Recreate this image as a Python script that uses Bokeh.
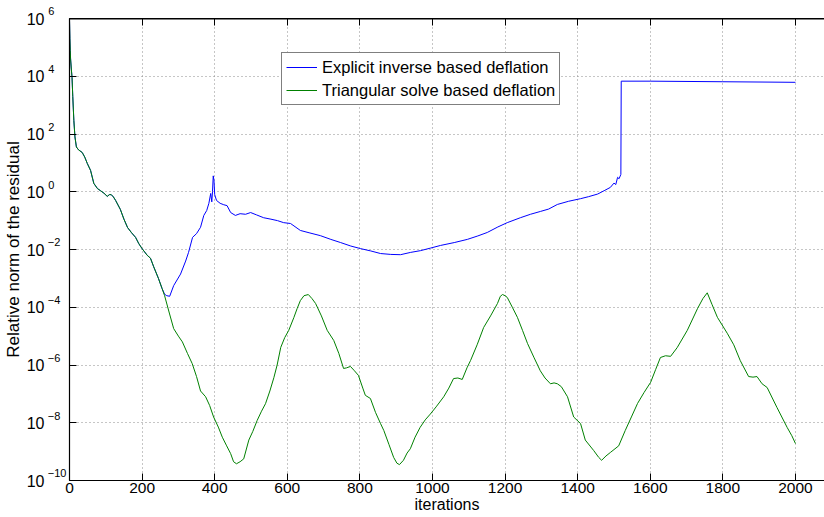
from bokeh.plotting import figure
from bokeh.models import (Range1d, FixedTicker, LinearAxis, LogAxis, CustomJSTickFormatter,
                          Legend, LegendItem, Span)
from bokeh.embed import file_html
from bokeh.resources import INLINE

# ---- data (log10 of relative residual) ----
shared_iter = [0, 1, 2, 3, 5, 7, 9, 12, 15, 19, 25, 35, 42, 49, 58, 67, 77, 85, 95,
               104, 110, 115, 121, 127, 140, 150, 160, 171, 182, 191, 200, 214, 223,
               232, 245, 255]
shared_log10 = [5.95, 5.3, 4.9, 4.6, 4.25, 3.96, 3.3, 2.47, 1.9, 1.55, 1.45, 1.36, 1.2,
                0.98, 0.74, 0.29, 0.11, 0.04, -0.05, -0.16, -0.1, -0.1, -0.18, -0.3,
                -0.61, -0.95, -1.24, -1.42, -1.58, -1.8, -1.97, -2.2, -2.3, -2.6, -3.0,
                -3.35]

explicit_iter = [262, 268, 276, 287, 306, 320, 328, 339, 350, 361, 370, 378, 384, 389,
                 392, 394, 396, 398, 400, 405, 415, 425, 434, 444, 457, 470, 485, 499,
                 515, 535, 555, 573, 590, 609, 636, 660, 691, 720, 747, 775, 802, 830,
                 857, 885, 912, 940, 967, 995, 1022, 1060, 1096, 1125, 1151, 1180,
                 1206, 1242, 1270, 1298, 1320, 1344, 1375, 1408, 1430, 1455, 1475,
                 1490, 1500, 1505, 1510, 1514, 1519, 1520, 1600, 1800, 2000]
explicit_log10 = [-3.55, -3.6, -3.62, -3.25, -2.85, -2.4, -2.1, -1.58, -1.45, -1.23,
                  -0.82, -0.65, -0.4, -0.06, -0.35, 0.0, 0.55, 0.4, -0.1, -0.3, -0.4,
                  -0.45, -0.48, -0.72, -0.82, -0.76, -0.78, -0.72, -0.8, -0.9, -0.95,
                  -1.0, -1.07, -1.1, -1.34, -1.42, -1.52, -1.65, -1.76, -1.88, -1.97,
                  -2.05, -2.14, -2.17, -2.18, -2.1, -2.04, -1.95, -1.86, -1.76, -1.65,
                  -1.53, -1.41, -1.22, -1.07, -0.9, -0.78, -0.68, -0.6, -0.44, -0.33,
                  -0.24, -0.17, -0.08, 0.05, 0.15, 0.3, 0.25, 0.5, 0.45, 0.6, 3.83,
                  3.83, 3.81, 3.79]

triangular_iter = [262, 275, 287, 300, 311, 325, 338, 350, 361, 375, 386, 397, 410, 421,
                   433, 444, 452, 460, 470, 480, 494, 505, 517, 529, 540, 552, 563, 572,
                   582, 593, 604, 618, 627, 636, 646, 658, 668, 678, 694, 710, 728, 742,
                   755, 763, 774, 785, 796, 808, 815, 829, 843, 857, 866, 880, 893, 902,
                   909, 920, 930, 939, 952, 966, 980, 994, 1010, 1031, 1045, 1058, 1070,
                   1082, 1095, 1105, 1123, 1141, 1160, 1179, 1187, 1193, 1200, 1206,
                   1220, 1234, 1248, 1262, 1280, 1297, 1310, 1325, 1335, 1344, 1355,
                   1372, 1389, 1408, 1421, 1444, 1458, 1466, 1478, 1490, 1513, 1531,
                   1548, 1565, 1583, 1601, 1615, 1628, 1642, 1656, 1674, 1702, 1730,
                   1745, 1757, 1770, 1785, 1812, 1830, 1848, 1871, 1883, 1894, 1908,
                   1922, 1949, 1977, 1990, 2000]
triangular_log10 = [-3.6, -4.2, -4.74, -5.0, -5.2, -5.6, -5.95, -6.4, -6.9, -7.1, -7.4,
                    -7.8, -8.15, -8.5, -8.8, -9.07, -9.35, -9.42, -9.35, -9.25, -8.6,
                    -8.3, -7.92, -7.6, -7.34, -6.9, -6.44, -6.0, -5.39, -5.05, -4.8,
                    -4.36, -4.05, -3.77, -3.6, -3.56, -3.7, -3.87, -4.3, -4.8, -5.15,
                    -5.6, -6.12, -6.1, -6.05, -6.2, -6.36, -6.8, -7.05, -7.16, -7.64,
                    -8.03, -8.27, -8.75, -9.2, -9.4, -9.45, -9.3, -9.05, -8.9, -8.5,
                    -8.16, -7.9, -7.7, -7.45, -7.1, -6.8, -6.47, -6.45, -6.5, -6.1,
                    -5.84, -5.3, -4.7, -4.3, -3.87, -3.62, -3.56, -3.6, -3.66, -4.0,
                    -4.35, -4.8, -5.26, -5.75, -6.2, -6.45, -6.65, -6.62, -6.65, -6.75,
                    -7.1, -7.8, -8.03, -8.6, -8.96, -9.2, -9.3, -9.15, -9.03, -8.8,
                    -8.27, -7.8, -7.33, -6.95, -6.6, -6.15, -5.74, -5.68, -5.7, -5.4,
                    -4.8, -4.05, -3.7, -3.5, -3.9, -4.35, -4.9, -5.3, -5.85, -6.4,
                    -6.42, -6.4, -6.65, -6.78, -7.47, -8.16, -8.45, -8.72]

series_names = ["Explicit inverse based deflation", "Triangular solve based deflation"]
x_ticks = [0, 200, 400, 600, 800, 1000, 1200, 1400, 1600, 1800, 2000]
y_exponents = [-10, -8, -6, -4, -2, 0, 2, 4, 6]

blue_x = shared_iter + explicit_iter
blue_y = [10 ** e for e in shared_log10 + explicit_log10]
green_x = shared_iter + triangular_iter
green_y = [10 ** e for e in shared_log10 + triangular_log10]
y_ticks = [10.0 ** e for e in y_exponents]

FONT = "Liberation Sans"

p = figure(width=824, height=517, output_backend="svg", toolbar_location=None,
           y_axis_type="log", x_range=Range1d(0, 2080), y_range=Range1d(1e-10, 1e6),
           min_border_left=69, min_border_right=0, min_border_top=18,
           min_border_bottom=37, background_fill_color="white",
           border_fill_color="white")
p.outline_line_color = None

r_blue = p.line(blue_x, blue_y, line_color="#0000ff", line_width=1)
r_green = p.line(green_x, green_y, line_color="#008000", line_width=1)

# exponent part of the y tick labels (raised by a blank second line)
exp_fmt = CustomJSTickFormatter(code="""
const e = Math.round(Math.log10(tick));
let s = String(Math.abs(e));
if (e < 0) { s = '\\u2212' + s; }
while (s.length < 3) { s += '\\u2007'; }
return s + '\\n\\u00a0';
""")
base_fmt = CustomJSTickFormatter(code="return '10';")
blank = CustomJSTickFormatter(code="return '';")

xa = p.xaxis[0]
xa.ticker = FixedTicker(ticks=x_ticks, minor_ticks=[])
xa.axis_label = "iterations"
ya = p.yaxis[0]
ya.ticker = FixedTicker(ticks=y_ticks, minor_ticks=[])
ya.formatter = exp_fmt

for ax in (xa, ya):
    ax.axis_line_color = "black"
    ax.axis_line_width = 1.2
    ax.major_tick_in = 7
    ax.major_tick_out = 0
    ax.minor_tick_in = 0
    ax.minor_tick_out = 0
    ax.major_tick_line_color = "black"
    ax.major_label_text_font = FONT
    ax.major_label_text_color = "black"
    ax.axis_label_text_font = FONT
    ax.axis_label_text_font_style = "normal"
    ax.axis_label_text_color = "black"

xa.major_label_text_font_size = "15.5px"
xa.major_label_standoff = 2
xa.axis_label_standoff = 0
xa.axis_label_text_font_size = "16px"
ya.major_label_text_font_size = "11px"
ya.major_label_standoff = 3

# outer left axis carrying the "10" base of each label and the axis title
ya2 = LogAxis(ticker=FixedTicker(ticks=y_ticks, minor_ticks=[]), formatter=base_fmt,
              axis_line_color=None, major_tick_in=0, major_tick_out=0,
              minor_tick_in=0, minor_tick_out=0, major_label_standoff=0,
              major_label_text_font=FONT, major_label_text_font_size="16px",
              major_label_text_color="black",
              axis_label="Relative norm of the residual", axis_label_standoff=1,
              axis_label_text_font=FONT, axis_label_text_font_size="17px",
              axis_label_text_font_style="normal", axis_label_text_color="black")
p.add_layout(ya2, "left")

top = LinearAxis(ticker=FixedTicker(ticks=x_ticks, minor_ticks=[]), formatter=blank,
                 major_tick_in=7, major_tick_out=0,
                 minor_tick_in=0, minor_tick_out=0, axis_line_color="black",
                 axis_line_width=1.2, major_label_standoff=0)
p.add_layout(top, "above")
p.add_layout(Span(location=1e6, dimension="width", line_color="black", line_width=2))

# grid
for g in (p.xgrid[0], p.ygrid[0]):
    g.grid_line_color = "#8c8c8c"
    g.grid_line_dash = "1 3"
    g.grid_line_width = 1
p.xgrid[0].ticker = FixedTicker(ticks=x_ticks)
p.ygrid[0].ticker = FixedTicker(ticks=y_ticks)

legend = Legend(items=[LegendItem(label=series_names[0], renderers=[r_blue]),
                       LegendItem(label=series_names[1], renderers=[r_green])],
                location=(212, 375), padding=4, spacing=3, margin=0,
                label_height=20, glyph_height=20, glyph_width=31, label_standoff=5,
                label_width=232,
                label_text_font=FONT, label_text_font_size="16.5px",
                label_text_color="black", border_line_color="black",
                border_line_width=1, background_fill_color="white",
                background_fill_alpha=1)
p.add_layout(legend, "center")

open("out.html", "w").write(file_html(p, INLINE))
